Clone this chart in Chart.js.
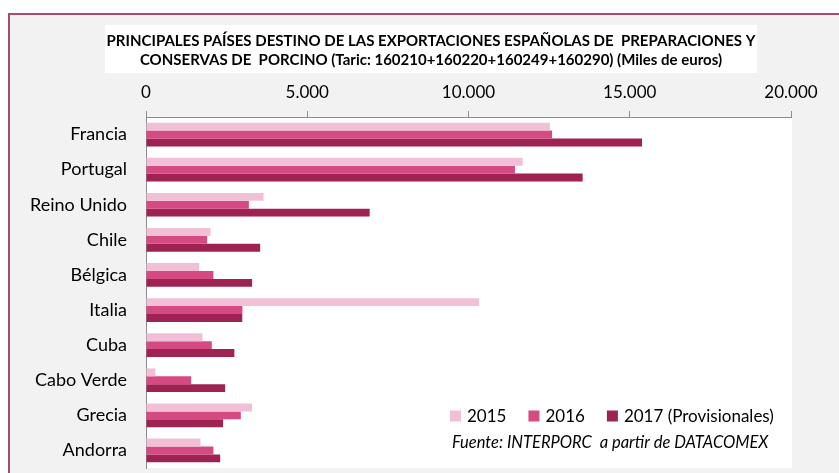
<!DOCTYPE html>
<html lang="es">
<head>
<meta charset="utf-8">
<title>Exportaciones de preparaciones y conservas de porcino</title>
<script src="https://cdn.jsdelivr.net/npm/chart.js@4.4.1/dist/chart.umd.min.js"></script>
<style>
  html, body { margin: 0; padding: 0; background: #ffffff; overflow: hidden; }
  #marco {
    position: absolute; left: 8px; top: 13px; width: 1000px; height: 600px;
    border: 2px solid #a84a72; background: #f2f2f2;
  }
  #grafico { position: absolute; left: 0; top: 0; }
</style>
</head>
<body>
<div id="marco"></div>
<canvas id="grafico" width="839" height="473"></canvas>
<script>
// Países y valores en miles de euros
const paises = ['Francia', 'Portugal', 'Reino Unido', 'Chile', 'Bélgica', 'Italia', 'Cuba', 'Cabo Verde', 'Grecia', 'Andorra'];
const valores2015 = [12525, 11680, 3645, 2000, 1650, 10330, 1750, 290, 3290, 1690];
const valores2016 = [12590, 11440, 3190, 1895, 2090, 2990, 2040, 1400, 2940, 2090];
const valores2017 = [15380, 13540, 6935, 3540, 3290, 2985, 2740, 2455, 2390, 2300];
const etiquetasSeries = ['2015', '2016', '2017 (Provisionales)'];
const ticksEjeX = [0, 5000, 10000, 15000, 20000];

const tituloLineas = [
  'PRINCIPALES PAÍSES DESTINO DE LAS EXPORTACIONES ESPAÑOLAS DE  PREPARACIONES Y',
  'CONSERVAS DE  PORCINO (Taric: 160210+160220+160249+160290) (Miles de euros)'
];
const fuente = 'Fuente: INTERPORC  a partir de DATACOMEX';

const colores = ['#f2c0d6', '#d64a84', '#9e2353'];
const FUENTE = 'Lato, "Open Sans", sans-serif';

// miles con punto
const formatoMiles = (v) => v.toString().replace(/\B(?=(\d{3})+(?!\d))/g, '.');

// fondos blancos, título, leyenda y fuente
const decoracion = {
  id: 'decoracion',
  beforeDraw(chart) {
    const { ctx, chartArea } = chart;
    ctx.save();
    ctx.fillStyle = '#ffffff';
    ctx.fillRect(105, 25, 652, 48);
    ctx.fillRect(chartArea.left, chartArea.top, chartArea.right - chartArea.left + 1, chartArea.bottom - chartArea.top);
    ctx.restore();
  },
  afterDraw(chart) {
    const { ctx } = chart;
    ctx.save();
    ctx.fillStyle = '#000000';
    ctx.font = 'bold 15px ' + FUENTE;
    ctx.textAlign = 'center';
    ctx.textBaseline = 'middle';
    tituloLineas.forEach((linea, i) => ctx.fillText(linea, 431, 41 + i * 19));

    // leyenda
    ctx.font = '17px ' + FUENTE;
    ctx.textAlign = 'left';
    let x = 450;
    chart.data.datasets.forEach((ds) => {
      ctx.fillStyle = ds.backgroundColor;
      ctx.fillRect(x, 410.5, 11, 11);
      ctx.fillStyle = '#000000';
      ctx.fillText(ds.label, x + 17, 416.5);
      x += 17 + ctx.measureText(ds.label).width + 22;
    });

    ctx.font = 'italic 16.5px ' + FUENTE;
    ctx.textBaseline = 'alphabetic';
    ctx.fillText(fuente, 452, 448);
    ctx.restore();
  }
};

const ctx = document.getElementById('grafico');
new Chart(ctx, {
  type: 'bar',
  data: {
    labels: paises,
    datasets: [
      { label: etiquetasSeries[0], data: valores2015, backgroundColor: colores[0] },
      { label: etiquetasSeries[1], data: valores2016, backgroundColor: colores[1] },
      { label: etiquetasSeries[2], data: valores2017, backgroundColor: colores[2] }
    ]
  },
  options: {
    indexAxis: 'y',
    responsive: false,
    animation: false,
    layout: { padding: { top: 68, left: 0, right: 48, bottom: 5 } },
    datasets: {
      bar: { categoryPercentage: 0.675, barPercentage: 1, borderWidth: 0 }
    },
    plugins: {
      legend: { display: false },
      title: { display: false },
      tooltip: { enabled: false }
    },
    scales: {
      x: {
        position: 'top',
        min: 0,
        max: 20000,
        afterBuildTicks: (eje) => { eje.ticks = ticksEjeX.map((v) => ({ value: v })); },
        afterFit: (eje) => {
          eje.height = 49;
          eje.paddingLeft = 0;
          eje.paddingRight = 0;
        },
        ticks: {
          padding: 8,
          color: '#000000',
          font: { family: FUENTE, size: 17 },
          callback: (v) => formatoMiles(v)
        },
        grid: { drawOnChartArea: false, tickLength: 6, color: '#8c8c8c' },
        border: { display: true, color: '#8c8c8c' }
      },
      y: {
        // ancho fijo y sin el margen extra que añade la etiqueta de abajo
        afterFit: (eje) => {
          eje.width = 146;
          eje.paddingTop = 0;
          eje.paddingBottom = 0;
        },
        ticks: {
          padding: 19,
          color: '#000000',
          font: { family: FUENTE, size: 18 }
        },
        grid: { display: false, drawTicks: false },
        border: { display: true, color: '#8c8c8c' }
      }
    }
  },
  plugins: [decoracion]
});
</script>
</body>
</html>
